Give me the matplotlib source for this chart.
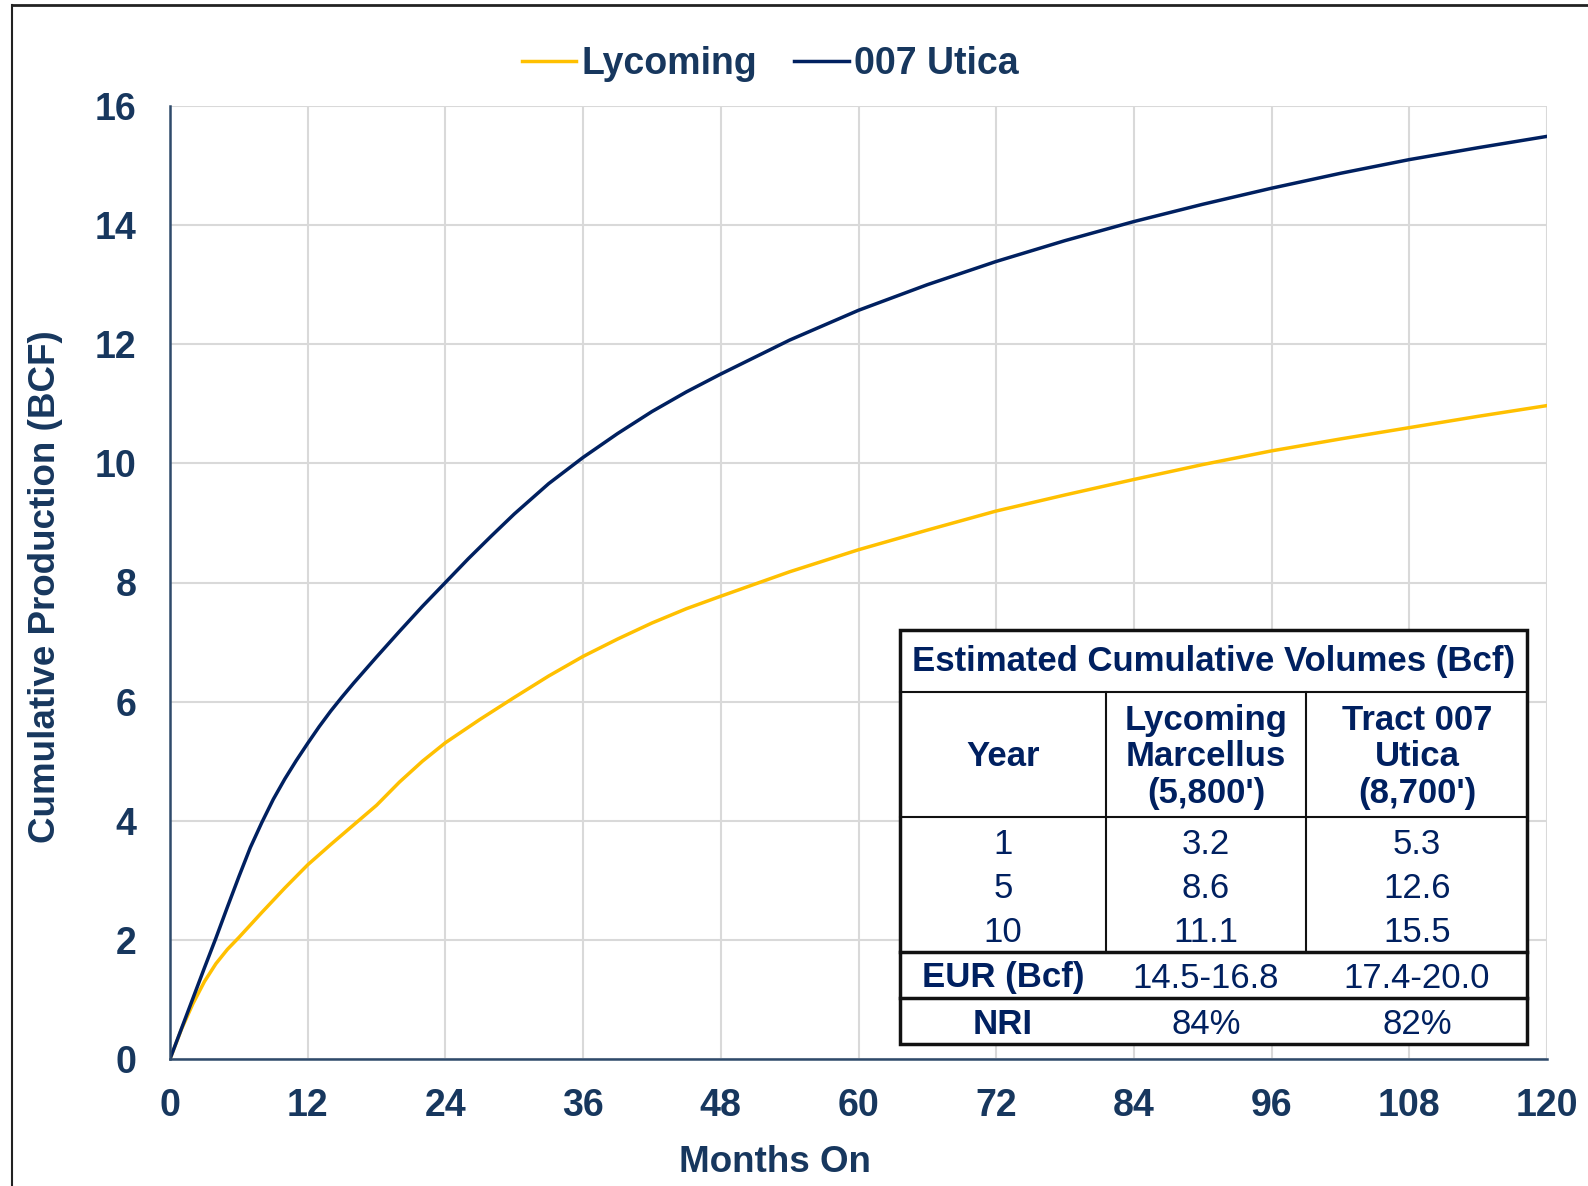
import matplotlib.pyplot as plt
from matplotlib.lines import Line2D

plt.rcParams['font.family'] = ['Liberation Sans', 'DejaVu Sans']

# cumulative production curves (BCF)
months_lyc = [0, 1, 2, 3, 4, 5, 6, 7, 8, 10, 12, 14, 16, 18, 20, 22, 24, 27, 30, 33, 36, 39, 42,
              45, 48, 54, 60, 66, 72, 78, 84, 90, 96, 102, 108, 114, 120]
lycoming = [0, 0.5, 0.93, 1.3, 1.6, 1.84, 2.04, 2.25, 2.46, 2.87, 3.26, 3.6, 3.93, 4.26, 4.65,
            5.0, 5.31, 5.7, 6.07, 6.43, 6.76, 7.05, 7.32, 7.56, 7.77, 8.18, 8.55, 8.88, 9.2,
            9.47, 9.73, 9.98, 10.21, 10.41, 10.6, 10.79, 10.97]
months_uti = [0, 1, 2, 3, 4, 5, 6, 7, 8, 9, 10, 11, 12, 13, 14, 15, 16, 18, 20, 22, 24, 26, 28,
              30, 33, 36, 39, 42, 45, 48, 54, 60, 66, 72, 78, 84, 90, 96, 102, 108, 114, 120]
utica = [0, 0.51, 1.02, 1.53, 2.03, 2.55, 3.06, 3.55, 3.97, 4.36, 4.7, 5.01, 5.3, 5.58, 5.84,
         6.08, 6.31, 6.75, 7.18, 7.6, 8.0, 8.4, 8.78, 9.15, 9.66, 10.1, 10.5, 10.87, 11.2, 11.5,
         12.07, 12.57, 13.0, 13.39, 13.74, 14.06, 14.35, 14.62, 14.87, 15.1, 15.3, 15.49]

x_ticks = list(range(0, 121, 12))
y_ticks = list(range(0, 17, 2))

table_title = 'Estimated Cumulative Volumes (Bcf)'
col_heads = ['Year', 'Lycoming\nMarcellus\n(5,800\')', 'Tract 007\nUtica\n(8,700\')']
years = ['1', '5', '10']
lyc_vols = ['3.2', '8.6', '11.1']
uti_vols = ['5.3', '12.6', '15.5']
eur = ['EUR (Bcf)', '14.5-16.8', '17.4-20.0']
nri = ['NRI', '84%', '82%']

GOLD = '#FFC000'
NAVY = '#002060'
TXT = '#17375E'

W, H = 1588, 1186
fig = plt.figure(figsize=(W / 100, H / 100), dpi=100)
ax = fig.add_axes([170 / W, 1 - 1059 / H, (1547 - 170) / W, (1059 - 106) / H])

ax.plot(months_lyc, lycoming, color=GOLD, lw=2.5, label='Lycoming')
ax.plot(months_uti, utica, color=NAVY, lw=2.5, label='007 Utica')

ax.set_xlim(0, 120)
ax.set_ylim(0, 16)
ax.set_xticks(x_ticks)
ax.set_yticks(y_ticks)
ax.grid(True, color='#D9D9D9', lw=1.5)
ax.set_axisbelow(True)
for s in ['top', 'right']:
    ax.spines[s].set_visible(False)
for s in ['left', 'bottom']:
    ax.spines[s].set_color('#2E4A6B')
    ax.spines[s].set_linewidth(1.8)
ax.tick_params(length=0, labelsize=27, colors=TXT)
ax.tick_params(axis='x', pad=21)
ax.tick_params(axis='y', pad=24)
for lab in ax.get_xticklabels() + ax.get_yticklabels():
    lab.set_fontweight('bold')
ax.set_xlabel('Months On', fontsize=26.5, fontweight='bold', color=TXT, va='center')
ax.set_ylabel('Cumulative Production (BCF)', fontsize=26.5, fontweight='bold', color=TXT, va='center')
ax.xaxis.set_label_coords((775 - 170) / 1377, (1059 - 1163) / 953)
ax.yaxis.set_label_coords((46 - 170) / 1377, (1059 - 587) / 953)

fig.legend(loc='center', bbox_to_anchor=(770 / W, 1 - 64 / H), ncol=2, frameon=False,
           handlelength=1.45, handletextpad=0.13, columnspacing=1.0,
           prop={'weight': 'bold', 'size': 27}, labelcolor=TXT)


# table drawn in figure pixel coordinates
def fx(px):
    return px / W


def fy(py):
    return 1 - py / H


L, R = 900, 1527
c1, c2 = 1106, 1306
tr = fig.transFigure
fig.patches.append(plt.Rectangle((fx(L), fy(1044)), fx(R) - fx(L), fy(630) - fy(1044),
                                 transform=tr, facecolor='white', edgecolor='#111111', lw=2.5, zorder=5))
for yy, lw in [(692, 1.5), (817, 1.5), (952, 2.5), (998, 2.5)]:
    fig.add_artist(Line2D([fx(L), fx(R)], [fy(yy)] * 2, transform=tr, color='#111111', lw=lw, zorder=6))
for xx in [c1, c2]:
    fig.add_artist(Line2D([fx(xx)] * 2, [fy(692), fy(952)], transform=tr, color='#111111', lw=1.5, zorder=6))

cx = [1003, 1206, 1417]
fig.text(fx((L + R) / 2), fy(662), table_title, ha='center', va='center', fontsize=25,
         fontweight='bold', color=NAVY, zorder=7)
for x, h in zip(cx, col_heads):
    fig.text(fx(x), fy(757), h, ha='center', va='center', fontsize=25, fontweight='bold',
             color=NAVY, linespacing=1.15, zorder=7)
for i, yy in enumerate([844, 888, 933]):
    for x, v in zip(cx, [years[i], lyc_vols[i], uti_vols[i]]):
        fig.text(fx(x), fy(yy), v, ha='center', va='center', fontsize=25, color=NAVY, zorder=7)
for yy, row in [(978, eur), (1025, nri)]:
    for j, (x, v) in enumerate(zip(cx, row)):
        fig.text(fx(x), fy(yy), v, ha='center', va='center', fontsize=25,
                 fontweight='bold' if j == 0 else 'normal', color=NAVY, zorder=7)

# outer frame (left and top visible)
fig.add_artist(Line2D([fx(12), fx(12)], [0, fy(5)], transform=tr, color='#222222', lw=1.5))
fig.add_artist(Line2D([fx(12), 1], [fy(5), fy(5)], transform=tr, color='#222222', lw=2))

fig.savefig('out.png', dpi=100)
